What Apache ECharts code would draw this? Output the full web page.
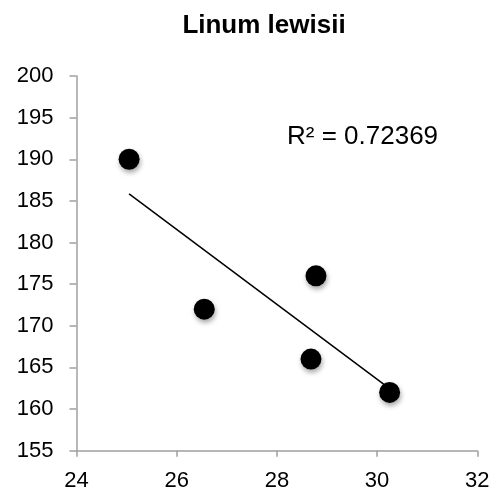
<!DOCTYPE html>
<html>
<head>
<meta charset="utf-8">
<script src="https://cdn.jsdelivr.net/npm/echarts@6/dist/echarts.min.js"></script>
<style>html,body{margin:0;padding:0;background:#fff}#c{width:503px;height:493px}</style>
</head>
<body>
<div id="c"></div>
<script>
var titleText = 'Linum lewisii';
var xValues = [25.05, 26.55, 28.78, 28.68, 30.25];
var yValues = [190, 172, 176, 166, 162];
var xTicks = [24, 26, 28, 30, 32];
var yTicks = [155, 160, 165, 170, 175, 180, 185, 190, 195, 200];
var r2Text = 'R² = 0.72369';

var n = xValues.length, mx = 0, my = 0;
for (var i = 0; i < n; i++) { mx += xValues[i]; my += yValues[i]; }
mx /= n; my /= n;
var sxy = 0, sxx = 0;
for (var i = 0; i < n; i++) { sxy += (xValues[i]-mx)*(yValues[i]-my); sxx += (xValues[i]-mx)*(xValues[i]-mx); }
var slope = sxy / sxx, icpt = my - slope * mx;
var xMin = Math.min.apply(null, xValues), xMax = Math.max.apply(null, xValues);
var trend = [[xMin, icpt + slope * xMin], [xMax, icpt + slope * xMax]];
var pts = xValues.map(function (x, i) { return [x, yValues[i]]; });

var font = 'Liberation Sans, Arial, Helvetica, sans-serif';
var axisColor = '#a0a0a0';
var chart = echarts.init(document.getElementById('c'), null, {renderer: 'canvas'});
chart.setOption({
  animation: false,
  title: {
    text: titleText, left: 259, top: 8, textAlign: 'center',
    textStyle: {fontFamily: font, fontWeight: 'bold', fontSize: 26, color: '#000'}
  },
  grid: {left: 76.5, right: 25.7, top: 76, bottom: 42.3, containLabel: false},
  xAxis: {
    type: 'value', min: xTicks[0], max: xTicks[xTicks.length-1], interval: 2,
    axisLine: {show: true, lineStyle: {color: axisColor, width: 1.5}},
    axisTick: {show: true, length: 6, lineStyle: {color: axisColor, width: 1.5}},
    axisLabel: {fontFamily: font, fontSize: 22, color: '#000', margin: 19},
    splitLine: {show: false}
  },
  yAxis: {
    type: 'value', min: yTicks[0], max: yTicks[yTicks.length-1], interval: 5,
    axisLine: {show: true, lineStyle: {color: axisColor, width: 1.5}},
    axisTick: {show: true, length: 7, lineStyle: {color: axisColor, width: 1.5}},
    axisLabel: {fontFamily: font, fontSize: 22, color: '#000', margin: 23},
    splitLine: {show: false}
  },
  graphic: [{
    type: 'text', left: 287, top: 124,
    style: {text: r2Text, fontFamily: font, fontSize: 26, fill: '#000'}
  }],
  series: [{
    type: 'line', data: trend, symbol: 'none', silent: true,
    lineStyle: {color: '#000', width: 1.5}, z: 1
  }, {
    type: 'scatter', data: pts, symbol: 'circle', symbolSize: 21,
    itemStyle: {color: '#000', opacity: 1, shadowColor: 'rgba(0,0,0,0.35)', shadowBlur: 5, shadowOffsetX: 1, shadowOffsetY: 3},
    z: 2
  }]
});
</script>
</body>
</html>
